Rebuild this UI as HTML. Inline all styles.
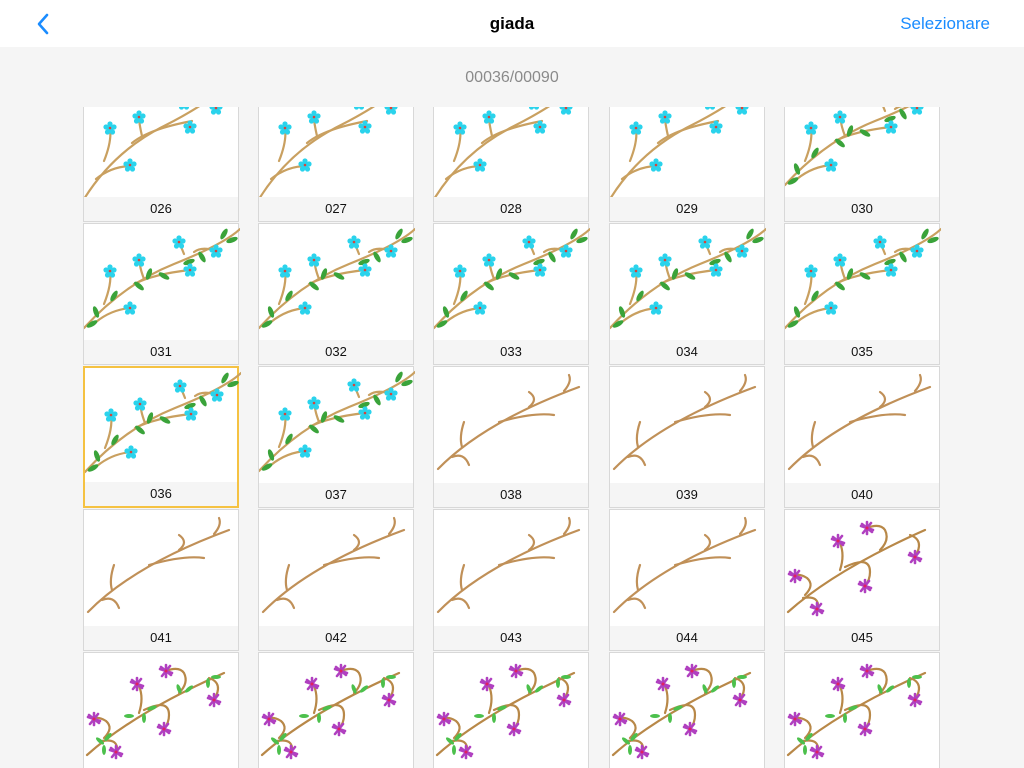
<!DOCTYPE html>
<html><head><meta charset="utf-8"><style>
*{margin:0;padding:0;box-sizing:border-box}
body{width:1024px;height:768px;overflow:hidden;background:#f5f5f5;font-family:"Liberation Sans",sans-serif;position:relative}
.hdr{position:absolute;left:0;top:0;width:1024px;height:47px;background:#fff}
.title{position:absolute;top:14px;left:0;width:1024px;text-align:center;font-size:17px;font-weight:bold;color:#000}
.sel{position:absolute;top:14px;right:34px;font-size:17px;color:#1a8cff}
.back{position:absolute;left:36px;top:13px}
.count{position:absolute;top:69px;width:1024px;text-align:center;font-size:16px;color:#8a8a8a}
.grid{position:absolute;left:0;top:107px;width:1024px;height:661px;overflow:hidden}
.c{position:absolute;width:156px;height:142px;background:#fff;border:1px solid #d8d8d8}
.c.s{border:2px solid #f5c242}
.c svg{position:absolute;left:0;top:0}
.c .l{position:absolute;left:0;bottom:0;width:100%;height:24px;background:#f5f5f5;text-align:center;font-size:13px;line-height:24px;color:#111}
</style></head><body>
<svg width="0" height="0" style="position:absolute">
<defs>
<g id="bf"><g fill="#2ad3ec"><circle r="3.5"/><circle cx="0" cy="-4" r="2.6"/><circle cx="4" cy="-1" r="2.6"/><circle cx="2.5" cy="4" r="2.6"/><circle cx="-2.5" cy="4" r="2.6"/><circle cx="-4" cy="-1" r="2.6"/></g><circle r="1.3" fill="#d8443a"/></g>
<g id="pf"><g stroke="#b040c0" stroke-width="2.6" stroke-linecap="round"><line x1="0" y1="-6" x2="0" y2="6"/><line x1="-6" y1="-2" x2="6" y2="2"/><line x1="-4" y1="5" x2="4" y2="-5"/><line x1="-5" y1="-4" x2="5" y2="4"/></g><circle r="1.5" fill="#e02060"/></g>
<g id="lf"><ellipse rx="6" ry="2.5" fill="#3aa33a"/></g>
<g id="bA" fill="none" stroke="#c9a060" stroke-width="2.2" stroke-linecap="round">
<path d="M0,118 Q30,70 80,45 T160,-10"/><path d="M12,98 Q28,85 48,85"/><path d="M20,80 Q28,60 26,47"/><path d="M48,62 Q65,48 108,40"/><path d="M58,55 Q55,42 55,36"/>
<use href="#bf" x="26" y="47" stroke="none"/><use href="#bf" x="55" y="36" stroke="none"/><use href="#bf" x="106" y="46" stroke="none"/><use href="#bf" x="46" y="84" stroke="none"/><use href="#bf" x="132" y="27" stroke="none"/><use href="#bf" x="100" y="22" stroke="none"/></g>
<g id="bB" fill="none" stroke="#c9a060" stroke-width="2.2" stroke-linecap="round">
<path d="M0,104 Q40,60 90,40 T156,5"/><path d="M12,98 Q28,85 48,84"/><path d="M20,80 Q28,60 26,47"/><path d="M50,60 Q70,50 106,46"/><path d="M60,55 Q55,42 56,36"/><path d="M100,30 Q96,20 95,18"/><path d="M110,28 Q118,22 132,27"/>
<g stroke="none"><use href="#lf" transform="translate(8,100) rotate(-30)"/><use href="#lf" transform="translate(12,88) rotate(70)"/><use href="#lf" transform="translate(30,72) rotate(-60)"/><use href="#lf" transform="translate(55,62) rotate(40)"/><use href="#lf" transform="translate(65,50) rotate(-70)"/><use href="#lf" transform="translate(80,52) rotate(30)"/><use href="#lf" transform="translate(105,38) rotate(-20)"/><use href="#lf" transform="translate(118,33) rotate(60)"/><use href="#lf" transform="translate(140,10) rotate(-60)"/><use href="#lf" transform="translate(148,16) rotate(-20)"/>
<use href="#bf" x="26" y="47"/><use href="#bf" x="55" y="36"/><use href="#bf" x="106" y="46"/><use href="#bf" x="46" y="84"/><use href="#bf" x="132" y="27"/><use href="#bf" x="95" y="18"/></g></g>
<g id="br" fill="none" stroke="#c09058" stroke-width="2.2" stroke-linecap="round">
<path d="M4,102 Q50,55 145,20"/><path d="M28,80 Q25,70 30,55"/><path d="M18,90 Q30,85 35,98"/><path d="M65,55 Q100,45 120,48"/><path d="M95,40 Q105,32 95,25"/><path d="M130,24 Q138,15 135,8"/></g>
<g id="pA" fill="none" stroke="#b88848" stroke-width="2.2" stroke-linecap="round">
<path d="M3,102 Q50,60 140,20"/><path d="M20,85 Q30,75 22,68 Q14,63 10,66"/><path d="M18,88 Q35,85 33,99"/><path d="M55,60 Q60,45 55,33"/><path d="M60,57 Q85,45 85,62 Q85,70 80,76"/><path d="M95,40 Q105,30 100,20 Q95,13 82,18"/><path d="M125,25 Q140,30 130,47"/>
<g stroke="none"><use href="#pf" x="10" y="66"/><use href="#pf" x="32" y="99"/><use href="#pf" x="53" y="31"/><use href="#pf" x="82" y="18"/><use href="#pf" x="80" y="76"/><use href="#pf" x="130" y="47"/></g></g>
<g id="pB"><use href="#pA"/><g fill="#4cc04c"><ellipse cx="24" cy="84" rx="5" ry="2" transform="rotate(-50 24 84)"/><ellipse cx="20" cy="97" rx="2" ry="5"/><ellipse cx="16" cy="88" rx="5" ry="2" transform="rotate(40 16 88)"/><ellipse cx="45" cy="63" rx="5" ry="2"/><ellipse cx="68" cy="55" rx="5" ry="2" transform="rotate(-20 68 55)"/><ellipse cx="60" cy="65" rx="2" ry="5"/><ellipse cx="95" cy="36" rx="2" ry="5" transform="rotate(-20 95 36)"/><ellipse cx="105" cy="36" rx="5" ry="2" transform="rotate(-40 105 36)"/><ellipse cx="124" cy="30" rx="2" ry="5"/><ellipse cx="132" cy="24" rx="5" ry="2"/></g></g>
</defs></svg>
<div class="hdr"><svg class="back" width="14" height="22"><path d="M11,2 L3,11 L11,20" fill="none" stroke="#1a8cff" stroke-width="2.6" stroke-linecap="round" stroke-linejoin="round"/></svg><div class="title">giada</div><div class="sel">Selezionare</div></div>
<div class="count">00036/00090</div>
<div class="grid">
<div class="c" style="left:83px;top:-27px"><svg width="156" height="118"><use href="#bA"/></svg><div class="l">026</div></div>
<div class="c" style="left:258px;top:-27px"><svg width="156" height="118"><use href="#bA"/></svg><div class="l">027</div></div>
<div class="c" style="left:433px;top:-27px"><svg width="156" height="118"><use href="#bA"/></svg><div class="l">028</div></div>
<div class="c" style="left:609px;top:-27px"><svg width="156" height="118"><use href="#bA"/></svg><div class="l">029</div></div>
<div class="c" style="left:784px;top:-27px"><svg width="156" height="118"><use href="#bB"/></svg><div class="l">030</div></div>
<div class="c" style="left:83px;top:116px"><svg width="156" height="118"><use href="#bB"/></svg><div class="l">031</div></div>
<div class="c" style="left:258px;top:116px"><svg width="156" height="118"><use href="#bB"/></svg><div class="l">032</div></div>
<div class="c" style="left:433px;top:116px"><svg width="156" height="118"><use href="#bB"/></svg><div class="l">033</div></div>
<div class="c" style="left:609px;top:116px"><svg width="156" height="118"><use href="#bB"/></svg><div class="l">034</div></div>
<div class="c" style="left:784px;top:116px"><svg width="156" height="118"><use href="#bB"/></svg><div class="l">035</div></div>
<div class="c s" style="left:83px;top:259px"><svg width="156" height="118"><use href="#bB"/></svg><div class="l">036</div></div>
<div class="c" style="left:258px;top:259px"><svg width="156" height="118"><use href="#bB"/></svg><div class="l">037</div></div>
<div class="c" style="left:433px;top:259px"><svg width="156" height="118"><use href="#br"/></svg><div class="l">038</div></div>
<div class="c" style="left:609px;top:259px"><svg width="156" height="118"><use href="#br"/></svg><div class="l">039</div></div>
<div class="c" style="left:784px;top:259px"><svg width="156" height="118"><use href="#br"/></svg><div class="l">040</div></div>
<div class="c" style="left:83px;top:402px"><svg width="156" height="118"><use href="#br"/></svg><div class="l">041</div></div>
<div class="c" style="left:258px;top:402px"><svg width="156" height="118"><use href="#br"/></svg><div class="l">042</div></div>
<div class="c" style="left:433px;top:402px"><svg width="156" height="118"><use href="#br"/></svg><div class="l">043</div></div>
<div class="c" style="left:609px;top:402px"><svg width="156" height="118"><use href="#br"/></svg><div class="l">044</div></div>
<div class="c" style="left:784px;top:402px"><svg width="156" height="118"><use href="#pA"/></svg><div class="l">045</div></div>
<div class="c" style="left:83px;top:545px"><svg width="156" height="118"><use href="#pB"/></svg><div class="l">046</div></div>
<div class="c" style="left:258px;top:545px"><svg width="156" height="118"><use href="#pB"/></svg><div class="l">047</div></div>
<div class="c" style="left:433px;top:545px"><svg width="156" height="118"><use href="#pB"/></svg><div class="l">048</div></div>
<div class="c" style="left:609px;top:545px"><svg width="156" height="118"><use href="#pB"/></svg><div class="l">049</div></div>
<div class="c" style="left:784px;top:545px"><svg width="156" height="118"><use href="#pB"/></svg><div class="l">050</div></div>
</div>
</body></html>
